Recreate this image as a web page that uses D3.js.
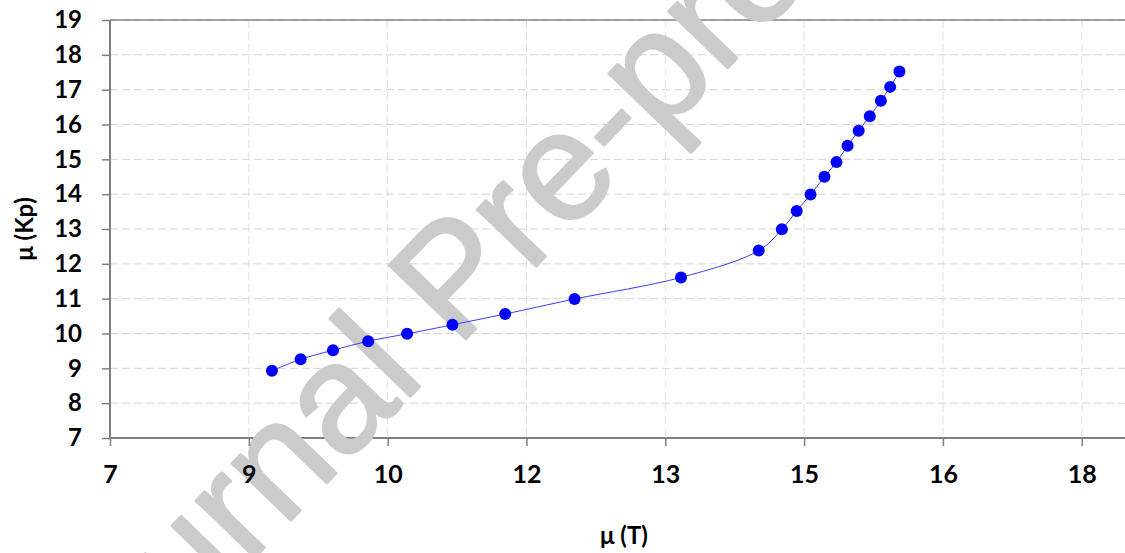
<!DOCTYPE html>
<html lang="en">

<head>
  <meta charset="UTF-8">
  <title>mu T vs mu Kp</title>
  <script src="https://d3js.org/d3.v7.min.js"></script>
  <style>
    body {
      margin: 0;
      background: #fff;
    }

    .tick text {
      font-family: Lato, 'Open Sans', sans-serif;
      font-weight: bold;
      fill: #000;
    }

    .axis-title {
      font-family: Lato, 'Open Sans', sans-serif;
      font-weight: bold;
      font-size: 24px;
      fill: #000;
    }

    .grid line {
      stroke: #d3d3d3;
      stroke-width: 1;
      stroke-dasharray: 8, 4;
    }

    .frame line {
      stroke: #7f7f7f;
      stroke-width: 2;
    }

    .watermark {
      font-family: 'Liberation Sans', Arial, sans-serif;
      font-size: 155px;
      fill: #cbcbcb;
      stroke: #cbcbcb;
      stroke-width: 2.5;
      stroke-linejoin: round;
    }
  </style>
</head>

<body>
  <svg width="1125" height="553"></svg>
  <script>
    // values
    const muT = [8.75, 9.06, 9.41, 9.79, 10.21, 10.70, 11.27, 12.02, 13.17, 14.01,
      14.26, 14.42, 14.57, 14.72, 14.85, 14.97, 15.09, 15.21, 15.33, 15.43, 15.53];
    const muKp = [8.93, 9.26, 9.52, 9.78, 9.99, 10.25, 10.56, 10.99, 11.61, 12.38,
      12.99, 13.52, 13.99, 14.50, 14.92, 15.39, 15.82, 16.24, 16.68, 17.08, 17.52];

    const xTicks = [7, 8.5, 10, 11.5, 13, 14.5, 16, 17.5];
    const xTickLabels = ['7', '9', '10', '12', '13', '15', '16', '18'];
    const yTicks = [7, 8, 9, 10, 11, 12, 13, 14, 15, 16, 17, 18, 19];

    const svg = d3.select('svg');
    const pLeft = 110;
    const pTop = 20;
    const pBottom = 438;
    const pRight = 1128;

    const x = d3.scaleLinear().domain([7, 18]).range([pLeft, pRight]);
    const y = d3.scaleLinear().domain([7, 19]).range([pBottom, pTop]);

    // grid
    svg.append('g')
      .attr('class', 'grid')
      .selectAll('line')
      .data(yTicks.slice(1))
      .enter()
      .append('line')
      .attr('x1', pLeft)
      .attr('x2', pRight)
      .attr('y1', d => y(d))
      .attr('y2', d => y(d));

    svg.append('g')
      .attr('class', 'grid')
      .selectAll('line')
      .data(xTicks.slice(1))
      .enter()
      .append('line')
      .attr('x1', d => x(d))
      .attr('x2', d => x(d))
      .attr('y1', pTop)
      .attr('y2', pBottom)
      .style('stroke', '#e0e0e0');

    // plot frame: top border, left and bottom axis lines
    const frame = svg.append('g').attr('class', 'frame');
    frame.append('line')
      .attr('x1', pLeft).attr('x2', pRight)
      .attr('y1', pTop).attr('y2', pTop)
      .style('stroke', '#868686')
      .style('stroke-width', 1.5);
    frame.append('line')
      .attr('x1', pLeft).attr('x2', pRight)
      .attr('y1', pBottom).attr('y2', pBottom);
    frame.append('line')
      .attr('x1', pLeft).attr('x2', pLeft)
      .attr('y1', pTop).attr('y2', pBottom);

    // watermark covers grid and frame, labels and data sit on top
    svg.append('text')
      .attr('class', 'watermark')
      .attr('transform', 'translate(74,745) rotate(-46)')
      .text('Journal Pre-proof');

    const xAxis = svg.append('g')
      .attr('transform', `translate(0,${pBottom})`)
      .call(d3.axisBottom(x)
        .tickValues(xTicks)
        .tickFormat((d, i) => xTickLabels[i])
        .tickSizeInner(8)
        .tickSizeOuter(0)
        .tickPadding(19));
    xAxis.selectAll('.tick text').style('font-size', '25px');

    const yAxis = svg.append('g')
      .attr('transform', `translate(${pLeft},0)`)
      .call(d3.axisLeft(y)
        .tickValues(yTicks)
        .tickSizeInner(8)
        .tickSizeOuter(0)
        .tickPadding(20));
    yAxis.selectAll('.tick text').style('font-size', '24px');

    [xAxis, yAxis].forEach(a => {
      a.select('.domain').remove();
      a.selectAll('.tick line').attr('stroke', '#7f7f7f').attr('stroke-width', 1.5);
    });

    const line = d3.line()
      .x(d => x(d[0]))
      .y(d => y(d[1]))
      .curve(d3.curveCatmullRom.alpha(0.5));

    const pts = muT.map((v, i) => [v, muKp[i]]);

    svg.append('path')
      .datum(pts)
      .attr('d', line)
      .attr('fill', 'none')
      .attr('stroke', '#3b3bf5')
      .attr('stroke-width', 1);

    svg.append('g')
      .selectAll('circle')
      .data(pts)
      .enter()
      .append('circle')
      .attr('cx', d => x(d[0]))
      .attr('cy', d => y(d[1]))
      .attr('r', 6)
      .attr('fill', '#0000ff');

    svg.append('text')
      .attr('class', 'axis-title')
      .attr('text-anchor', 'middle')
      .attr('x', 624)
      .attr('y', 544)
      .text('μ (T)');

    svg.append('text')
      .attr('class', 'axis-title')
      .attr('text-anchor', 'middle')
      .attr('transform', `translate(33,${(pTop + pBottom) / 2}) rotate(-90)`)
      .text('μ (Kp)');
  </script>
</body>

</html>
